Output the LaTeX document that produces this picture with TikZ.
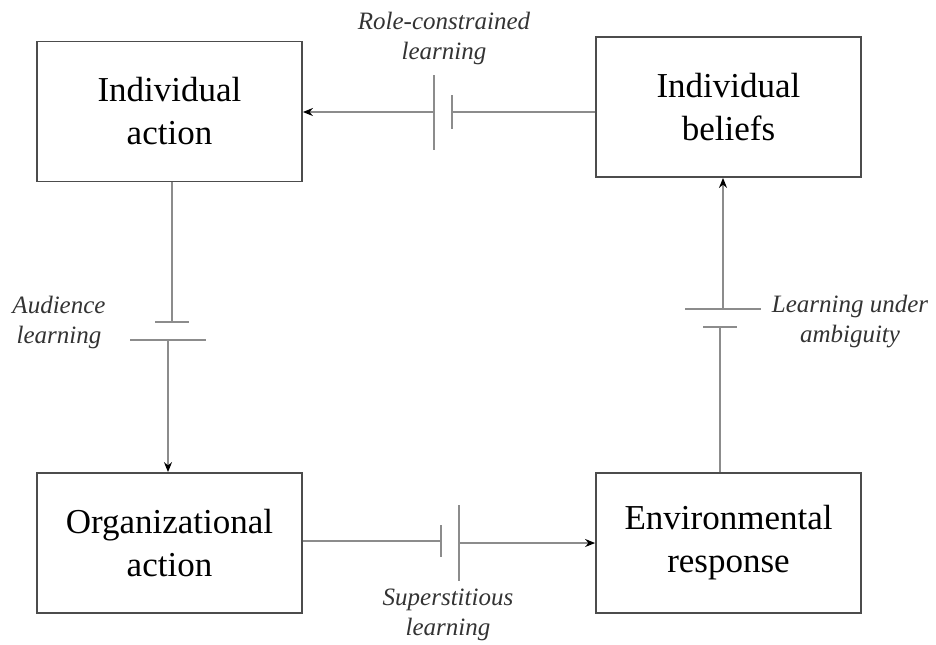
\documentclass[tikz,border=0pt]{standalone}
\usepackage{fontspec}
\setmainfont{Liberation Serif}
\usetikzlibrary{arrows.meta}

\begin{document}
\begin{tikzpicture}[> = {Stealth[black,length=5pt,width=4pt]}, % arrow head style
	x=0.5pt, y=-0.5pt, % one unit = one pixel of the layout
	box/.style={draw=black!70, line width=0.9pt, minimum width=132.5pt, minimum height=70pt,
		inner sep=0pt, align=center, font=\fontsize{17.5}{21.5}\selectfont},
	lbl/.style={align=center, text=black!80, font=\itshape\fontsize{12.5}{15}\selectfont},
	link/.style={draw=black!45, line width=0.7pt}]
	\useasboundingbox (0,0) rectangle (936,644);

	% the four states of the cycle
	\node[box] (ia) at (169.5,111.5) {Individual\\action};
	\node[box] (ib) at (728.5,107)   {Individual\\beliefs};
	\node[box] (oa) at (169.5,543)   {Organizational\\action};
	\node[box] (er) at (728.5,543)   {Environmental\\response};

	% break points (short and long plate of each link)
	\coordinate (rcA) at (434,112);  \coordinate (rcB) at (452,112);
	\coordinate (alA) at (172,322);  \coordinate (alB) at (168,340);
	\coordinate (luA) at (720,327);  \coordinate (luB) at (723,309);
	\coordinate (slA) at (441,541);  \coordinate (slB) at (459,543);

	% role-constrained learning
	\draw[link] (ib.west |- rcB) -- (rcB);
	\draw[link] (rcB) ++(0,-17) -- ++(0,34);
	\draw[link] (rcA) ++(0,-37) -- ++(0,75);
	\draw[link,->] (rcA) -- (ia.east |- rcA);

	% audience learning
	\draw[link] (ia.south -| alA) -- (alA);
	\draw[link] (alA) ++(-17,0) -- ++(34,0);
	\draw[link] (alB) ++(-38,0) -- ++(76,0);
	\draw[link,->] (alB) -- (alB |- oa.north);

	% superstitious learning
	\draw[link] (oa.east |- slA) -- (slA);
	\draw[link] (slA) ++(0,-16) -- ++(0,32);
	\draw[link] (slB) ++(0,-38) -- ++(0,76);
	\draw[link,->] (slB) -- (slB -| er.west);

	% learning under ambiguity
	\draw[link] (er.north -| luA) -- (luA);
	\draw[link] (luA) ++(-17,0) -- ++(34,0);
	\draw[link] (luB) ++(-38,0) -- ++(76,0);
	\draw[link,->] (luB) -- (luB |- ib.south);

	% labels
	\node[lbl] (rcl) at (444,38)  {Role-constrained\\learning};
	\node[lbl] (all) at (59,322)  {Audience\\learning};
	\node[lbl] (lul) at (850,322) {Learning under\\ambiguity};
	\node[lbl] (sll) at (448,615) {Superstitious\\learning};
\end{tikzpicture}
\end{document}
